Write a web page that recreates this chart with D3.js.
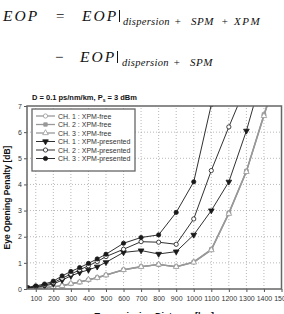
<!DOCTYPE html>
<html>
<head>
<meta charset="utf-8">
<script src="https://cdn.jsdelivr.net/npm/d3@7"></script>
<style>
  body { margin: 0; background: #fff; }
  svg { display: block; }
  .eq { font-family: "Liberation Serif", "DejaVu Serif", serif; font-style: italic; fill: #111; }
  .tick text { font-family: "Liberation Sans", Arial, sans-serif; font-size: 7px; fill: #333; }
</style>
</head>
<body>
<svg id="chart"></svg>
<script>
// transmission distance [km]
let distances = [50, 100, 150, 200, 250, 300, 350, 400, 450, 500, 600, 700, 800, 900, 1000, 1100, 1200, 1300, 1400, 1500];

// eye opening penalty [dB]
let ch1Free = [0.02, 0.02, 0.05, 0.08, 0.12, 0.2, 0.26, 0.35, 0.43, 0.53, 0.73, 0.85, 0.94, 0.85, 1.03, 1.5, 2.9, 4.5, 6.65, 8.7];
let ch2Free = [0.02, 0.03, 0.05, 0.09, 0.13, 0.2, 0.27, 0.35, 0.44, 0.54, 0.74, 0.86, 0.93, 0.86, 1.04, 1.52, 2.92, 4.52, 6.68, 8.75];
let ch3Free = [0.02, 0.02, 0.06, 0.08, 0.12, 0.21, 0.26, 0.36, 0.43, 0.53, 0.73, 0.85, 0.94, 0.85, 1.02, 1.49, 2.88, 4.48, 6.62, 8.68];
let ch1Xpm = [0.05, 0.06, 0.12, 0.19, 0.34, 0.5, 0.63, 0.73, 0.85, 1.02, 1.4, 1.47, 1.34, 1.43, 2.07, 3.0, 4.1, 6.05, 8.4];
let ch2Xpm = [0.05, 0.09, 0.15, 0.24, 0.41, 0.57, 0.73, 0.89, 1.05, 1.24, 1.52, 1.81, 1.79, 1.71, 2.68, 4.53, 6.2, 7.8];
let ch3Xpm = [0.06, 0.12, 0.19, 0.3, 0.5, 0.67, 0.82, 0.98, 1.15, 1.33, 1.75, 1.97, 2.07, 2.93, 4.1, 7.05];

let seriesNames = ["CH. 1 : XPM-free", "CH. 2 : XPM-free", "CH. 3 : XPM-free",
                   "CH. 1 : XPM-presented", "CH. 2 : XPM-presented", "CH. 3 : XPM-presented"];
let xTicks = [100, 200, 300, 400, 500, 600, 700, 800, 900, 1000, 1100, 1200, 1300, 1400, 1500];
let yTicks = [0, 1, 2, 3, 4, 5, 6, 7];

let gray = "#999", black = "#1a1a1a";
let series = [
    {name: seriesNames[0], values: ch1Free, color: gray, symbol: d3.symbolCircle, filled: false},
    {name: seriesNames[1], values: ch2Free, color: gray, symbol: d3.symbolSquare, filled: true},
    {name: seriesNames[2], values: ch3Free, color: gray, symbol: d3.symbolTriangle, filled: false},
    {name: seriesNames[3], values: ch1Xpm, color: black, symbol: d3.symbolTriangle, filled: true, flip: true},
    {name: seriesNames[4], values: ch2Xpm, color: black, symbol: d3.symbolCircle, filled: false},
    {name: seriesNames[5], values: ch3Xpm, color: black, symbol: d3.symbolCircle, filled: true}
];

let width = 284, height = 314;
let margin = {top: 106, right: 2, bottom: 25, left: 27};

let svg = d3.select("#chart")
    .attr("width", width)
    .attr("height", height);

// equation on top
let eq = svg.append("g").attr("class", "eq");
function eqText(x, y, size, txt, spacing) {
    eq.append("text")
        .attr("x", x).attr("y", y)
        .style("font-size", size + "px")
        .style("letter-spacing", (spacing || 0) + "px")
        .text(txt);
}
eqText(3, 21, 15.5, "EOP", 2);
eqText(55, 21, 15, "=", 0);
eqText(82, 21, 15.5, "EOP", 2);
eq.append("line").attr("x1", 119.5).attr("x2", 119.5).attr("y1", 10).attr("y2", 22)
    .attr("stroke", "#111").attr("stroke-width", 1);
eqText(123, 25, 10.5, "dispersion", 0.3);
eqText(174, 25, 11, "+", 0);
eqText(191, 25, 11, "SPM", 0.5);
eqText(221, 25, 11, "+", 0);
eqText(234, 25, 11, "XPM", 1.5);

eqText(54, 62, 15, "\u2212", 0);
eqText(80, 62, 15.5, "EOP", 2);
eq.append("line").attr("x1", 117.5).attr("x2", 117.5).attr("y1", 51).attr("y2", 63)
    .attr("stroke", "#111").attr("stroke-width", 1);
eqText(122, 66, 10.5, "dispersion", 0.3);
eqText(173, 66, 11, "+", 0);
eqText(190, 66, 11, "SPM", 0.5);

// scales
let x = d3.scaleLinear()
    .domain([50, 1500])
    .range([margin.left, width - margin.right - 0.5]);
let y = d3.scaleLinear()
    .domain([0, 7])
    .range([height - margin.bottom, margin.top]);

// grid
svg.append("g")
    .selectAll("line")
    .data(xTicks.slice(0, -1))
    .enter().append("line")
    .attr("x1", d => x(d)).attr("x2", d => x(d))
    .attr("y1", y(0)).attr("y2", y(7))
    .attr("stroke", "#999").attr("stroke-width", 0.7)
    .attr("stroke-dasharray", "1,2");
svg.append("g")
    .selectAll("line")
    .data(yTicks.slice(1, -1))
    .enter().append("line")
    .attr("x1", x(50)).attr("x2", x(1500))
    .attr("y1", d => y(d)).attr("y2", d => y(d))
    .attr("stroke", "#999").attr("stroke-width", 0.7)
    .attr("stroke-dasharray", "1,2");

// axes
let xAxis = d3.axisBottom(x).tickValues(xTicks).tickSize(3).tickPadding(4).tickFormat(d3.format("d"));
let yAxis = d3.axisLeft(y).tickValues(yTicks).tickSize(3).tickPadding(2).tickFormat(d3.format("d"));
svg.append("g")
    .attr("transform", "translate(0," + y(0) + ")")
    .call(xAxis)
    .call(g => g.select(".domain").remove())
    .call(g => g.selectAll(".tick line").attr("stroke", "#555"));
svg.append("g")
    .attr("transform", "translate(" + x(50) + ",0)")
    .call(yAxis)
    .call(g => g.select(".domain").remove())
    .call(g => g.selectAll(".tick line").attr("stroke", "#555"));

// clip to plot area
svg.append("clipPath").attr("id", "plotClip")
    .append("rect")
    .attr("x", x(50)).attr("y", y(7))
    .attr("width", x(1500) - x(50)).attr("height", y(0) - y(7));

let plot = svg.append("g").attr("clip-path", "url(#plotClip)");
let line = d3.line()
    .x((d, i) => x(distances[i]))
    .y(d => y(d));

series.forEach(function(s) {
    plot.append("path")
        .datum(s.values)
        .attr("fill", "none")
        .attr("stroke", s.color)
        .attr("stroke-width", s.color === gray ? 1.3 : 0.9)
        .attr("d", line);
});
series.forEach(function(s) {
    let sym = d3.symbol().type(s.symbol).size(s.symbol === d3.symbolSquare ? 12 : 14);
    plot.selectAll(null)
        .data(s.values)
        .enter().append("path")
        .attr("d", sym)
        .attr("transform", (d, i) => "translate(" + x(distances[i]) + "," + y(d) + ")" + (s.flip ? " rotate(180)" : ""))
        .attr("fill", s.filled ? s.color : "#fff")
        .attr("stroke", s.color)
        .attr("stroke-width", 0.8);
});

// frame
svg.append("rect")
    .attr("x", x(50)).attr("y", y(7))
    .attr("width", x(1500) - x(50)).attr("height", y(0) - y(7))
    .attr("fill", "none")
    .attr("stroke", "#666")
    .attr("stroke-width", 1.5);

// legend
let legend = svg.append("g");
legend.append("rect")
    .attr("x", 32).attr("y", 109)
    .attr("width", 103).attr("height", 62)
    .attr("fill", "#fff")
    .attr("stroke", "#666")
    .attr("stroke-width", 1.3);
series.forEach(function(s, i) {
    let ly = 116 + i * 8.5;
    legend.append("line")
        .attr("x1", 36).attr("x2", 55)
        .attr("y1", ly).attr("y2", ly)
        .attr("stroke", s.color)
        .attr("stroke-width", s.color === gray ? 1.3 : 0.9);
    legend.append("path")
        .attr("d", d3.symbol().type(s.symbol).size(s.symbol === d3.symbolSquare ? 12 : 14))
        .attr("transform", "translate(45.5," + ly + ")" + (s.flip ? " rotate(180)" : ""))
        .attr("fill", s.filled ? s.color : "#fff")
        .attr("stroke", s.color)
        .attr("stroke-width", 0.8);
    legend.append("text")
        .attr("x", 58).attr("y", ly + 2.5)
        .style("font-family", "Liberation Sans, Arial, sans-serif")
        .style("font-size", "7px")
        .attr("fill", "#333")
        .text(s.name);
});

// title
let title = svg.append("text")
    .attr("x", 32).attr("y", 100)
    .style("font-family", "Liberation Sans, Arial, sans-serif")
    .style("font-size", "7.5px")
    .style("font-weight", "bold")
    .attr("fill", "#111");
title.append("tspan").text("D = 0.1 ps/nm/km, P");
title.append("tspan").attr("dy", 2).style("font-size", "5px").text("s");
title.append("tspan").attr("dy", -2).text(" = 3 dBm");

// axis titles
svg.append("text")
    .attr("transform", "translate(10," + ((y(0) + y(7)) / 2) + ") rotate(-90)")
    .attr("text-anchor", "middle")
    .style("font-family", "Liberation Sans, Arial, sans-serif")
    .style("font-size", "8.5px")
    .style("font-weight", "bold")
    .attr("fill", "#111")
    .text("Eye Opening Penalty [dB]");
svg.append("text")
    .attr("x", (x(50) + x(1500)) / 2).attr("y", 319)
    .attr("text-anchor", "middle")
    .style("font-family", "Liberation Sans, Arial, sans-serif")
    .style("font-size", "9px")
    .style("font-weight", "bold")
    .attr("fill", "#111")
    .text("Transmission Distance [km]");
</script>
</body>
</html>
